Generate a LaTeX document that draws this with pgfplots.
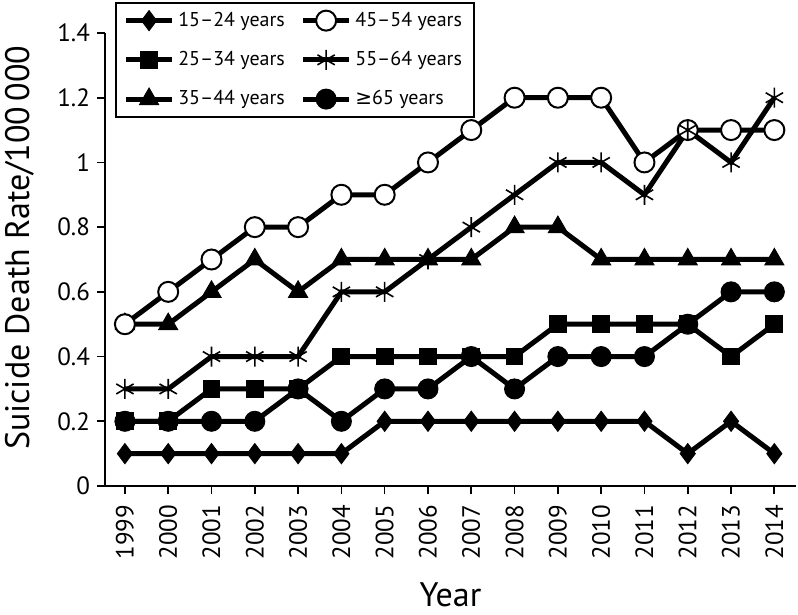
\documentclass[border=0pt]{standalone}
\usepackage{pgfplots}
\pgfplotsset{compat=1.18}
\usepackage{fontspec}
\setmainfont{PT Sans}
\newfontfamily\dejavu{DejaVu Sans}
\tikzset{
  sA/.style={line width=2.5pt, black, mark=diamond*, mark size=5pt, mark options={line width=0.5pt, solid}},
  sB/.style={line width=2.5pt, black, mark=square*, mark size=4.2pt, mark options={line width=0.5pt, solid}},
  sC/.style={line width=2.5pt, black, mark=triangle*, mark size=5.5pt, mark options={line width=0.5pt, solid}},
  sD/.style={line width=2.5pt, black, mark=*, mark size=5pt, mark options={fill=white, line width=1pt, solid}},
  sE/.style={line width=2.5pt, black, mark=asterisk, mark size=5pt, mark options={line width=0.8pt, solid}},
  sF/.style={line width=2.5pt, black, mark=*, mark size=5pt, mark options={line width=0.5pt, solid}},
}
\begin{document}
\begin{tikzpicture}
\begin{axis}[
  scale only axis,
  width=345.5pt, height=226.5pt,
  xmin=1998.54, xmax=2014.5,
  ymin=0, ymax=1.4,
  axis x line*=bottom, axis y line*=left,
  axis line style={line width=0.8pt},
  xtick={1999,...,2014},
  ytick={0,0.2,...,1.4},
  yticklabels={0,0.2,0.4,0.6,0.8,1,1.2,1.4},
  xticklabel style={rotate=90, anchor=east, xshift=-2pt, font=\fontsize{12.5}{14}\selectfont},
  yticklabel style={font=\fontsize{12.5}{14}\selectfont},
  /pgf/number format/assume math mode=true,
  /pgf/number format/1000 sep={},
  tick align=outside,
  major tick length=4pt,
  tick style={line width=0.8pt, black},
  xlabel={Year},
  ylabel={Suicide Death Rate/100\,000},
  xlabel style={at={(axis description cs:0.5,0)}, anchor=center, yshift=-54.5pt, font=\fontsize{17}{20}\selectfont},
  ylabel style={at={(axis description cs:-0.123,0.526)}, anchor=center, font=\fontsize{17}{20}\selectfont},
  legend columns=2,
  legend style={at={(rel axis cs:0.0145,1.068)}, anchor=north west,
    font=\fontsize{10}{11}\selectfont, draw=black, line width=0.8pt,
    row sep=7pt, inner xsep=4pt, inner ysep=2.5pt,
    /tikz/every even column/.append style={column sep=6pt}},
  legend cell align=left,
  legend image code/.code={\draw[mark repeat=2,mark phase=2] plot coordinates {(0cm,0cm)(0.4cm,0cm)(0.8cm,0cm)};},
  clip=false,
]
\addlegendimage{sA}\addlegendentry{15–24 years}
\addlegendimage{sD}\addlegendentry{45–54 years}
\addlegendimage{sB}\addlegendentry{25–34 years}
\addlegendimage{sE}\addlegendentry{55–64 years}
\addlegendimage{sC}\addlegendentry{35–44 years}
\addlegendimage{sF}\addlegendentry{{\dejavu ≥}65 years}

\addplot[sC, forget plot] coordinates {
(1999,0.5)(2000,0.5)(2001,0.6)(2002,0.7)(2003,0.6)(2004,0.7)(2005,0.7)(2006,0.7)
(2007,0.7)(2008,0.8)(2009,0.8)(2010,0.7)(2011,0.7)(2012,0.7)(2013,0.7)(2014,0.7)};
\addplot[sF, forget plot] coordinates {
(1999,0.2)(2000,0.2)(2001,0.2)(2002,0.2)(2003,0.3)(2004,0.2)(2005,0.3)(2006,0.3)
(2007,0.4)(2008,0.3)(2009,0.4)(2010,0.4)(2011,0.4)(2012,0.5)(2013,0.6)(2014,0.6)};
\addplot[sA, forget plot] coordinates {
(1999,0.1)(2000,0.1)(2001,0.1)(2002,0.1)(2003,0.1)(2004,0.1)(2005,0.2)(2006,0.2)
(2007,0.2)(2008,0.2)(2009,0.2)(2010,0.2)(2011,0.2)(2012,0.1)(2013,0.2)(2014,0.1)};
\addplot[sB, forget plot] coordinates {
(1999,0.2)(2000,0.2)(2001,0.3)(2002,0.3)(2003,0.3)(2004,0.4)(2005,0.4)(2006,0.4)
(2007,0.4)(2008,0.4)(2009,0.5)(2010,0.5)(2011,0.5)(2012,0.5)(2013,0.4)(2014,0.5)};
\addplot[sD, forget plot] coordinates {
(1999,0.5)(2000,0.6)(2001,0.7)(2002,0.8)(2003,0.8)(2004,0.9)(2005,0.9)(2006,1.0)
(2007,1.1)(2008,1.2)(2009,1.2)(2010,1.2)(2011,1.0)(2012,1.1)(2013,1.1)(2014,1.1)};
\addplot[sE, forget plot] coordinates {
(1999,0.3)(2000,0.3)(2001,0.4)(2002,0.4)(2003,0.4)(2004,0.6)(2005,0.6)(2006,0.7)
(2007,0.8)(2008,0.9)(2009,1.0)(2010,1.0)(2011,0.9)(2012,1.1)(2013,1.0)(2014,1.2)};
\end{axis}
\pgfresetboundingbox
\useasboundingbox ([xshift=-52.5pt,yshift=-64.5pt]current axis.south west) rectangle ([xshift=1pt,yshift=16.5pt]current axis.north east);
\end{tikzpicture}
\end{document}
